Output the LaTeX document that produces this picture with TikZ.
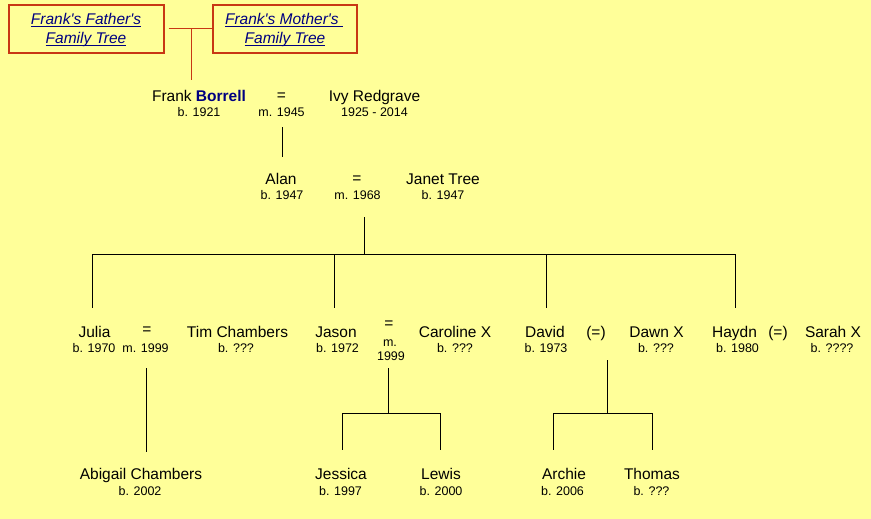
\documentclass[tikz,border=0pt]{standalone}
\usepackage{fontspec}
\setmainfont{Liberation Sans}
\definecolor{bg}{RGB}{255,255,153}
\definecolor{navy}{RGB}{0,0,128}
\definecolor{boxred}{RGB}{200,55,20}
\newsavebox\ulbox
\newcommand\myul[1]{\sbox\ulbox{#1}\rlap{\rule[-2.4pt]{\wd\ulbox}{0.9pt}}\usebox\ulbox}
\tikzset{
  nm/.style={anchor=base, inner sep=0pt, font=\fontsize{15.5}{18}\selectfont},
  dt/.style={anchor=base, inner sep=0pt, font=\fontsize{12.5}{14}\selectfont},
  lnk/.style={anchor=base, inner sep=0pt, text=navy, font=\fontsize{15.5}{18}\selectfont\itshape},
  ln/.style={draw=black, line width=1pt},
  rl/.style={draw=boxred, line width=1pt},
  treebox/.style={draw=boxred, line width=1.2pt, inner sep=0pt, minimum height=48pt}
}
\begin{document}
\begin{tikzpicture}[x=1pt,y=-1pt]
\path[fill=bg] (0,0) rectangle (871,519);
\useasboundingbox (0,0) rectangle (871,519);

% top boxes
\node[treebox, minimum width=155pt] (fbox) at (86.5,29) {};
\node[treebox, minimum width=144pt] (mbox) at (285,29) {};
\node[lnk] (f1) at (86,25) {\myul{Frank\textquotesingle s Father\textquotesingle s}};
\node[lnk] (f2) at (86,44) {\myul{Family Tree}};
\node[lnk] (m1) at (284,25) {\myul{Frank\textquotesingle s Mother\textquotesingle s\ }};
\node[lnk] (m2) at (285,44) {\myul{Family Tree}};
\coordinate (tj) at (191,29);
\coordinate (fb) at (191,80);
\draw[rl] ([xshift=4pt]fbox.east) -- (mbox.west);
\draw[rl] (tj) -- (fb);

% generation 1
\node[nm] (frank) at (199,102) {Frank \textcolor{navy}{\bfseries Borrell}};
\node[dt] (frankd) at (199,117) {b. 1921};
\node[nm] (eq1) at (281.5,101) {=};
\node[dt] (m1945) at (281.5,117) {m. 1945};
\node[nm] (ivy) at (374.5,102) {Ivy Redgrave};
\node[dt] (ivyd) at (374.5,117) {1925 - 2014};
\coordinate (g1a) at (282,127);
\coordinate (g1b) at (282,157);
\draw[ln] (g1a) -- (g1b);

% generation 2
\node[nm] (alan) at (281,184) {Alan};
\node[dt] (aland) at (282,199) {b. 1947};
\node[nm] (eq2) at (357,183) {=};
\node[dt] (m1968) at (357.5,199) {m. 1968};
\node[nm] (janet) at (443,184) {Janet Tree};
\node[dt] (janetd) at (443,199) {b. 1947};
\coordinate (g2a) at (364,217);
\coordinate (g2b) at (364,254);
\coordinate (hl) at (92,254);
\coordinate (hr) at (735,254);
\coordinate (jb) at (334,254);
\coordinate (db) at (546,254);
\coordinate (julb) at (92,308);
\coordinate (jasb) at (334,308);
\coordinate (davb) at (546,308);
\coordinate (hayb) at (735,308);
\draw[ln] (g2a) -- (g2b);
\draw[ln] (hl) -- (hr);
\draw[ln] (hl) -- (julb);
\draw[ln] (jb) -- (jasb);
\draw[ln] (db) -- (davb);
\draw[ln] (hr) -- (hayb);

% generation 3
\node[nm] (julia) at (94.5,337) {Julia};
\node[dt] (juliad) at (94,352) {b. 1970};
\node[nm] (eq3) at (147,334.5) {=};
\node[dt] (m1999a) at (145.5,352) {m. 1999};
\node[nm] (tim) at (237.5,337) {Tim Chambers};
\node[dt] (timd) at (236,352) {b. ???};
\node[nm] (jason) at (336,337) {Jason};
\node[dt] (jasond) at (337.5,352) {b. 1972};
\node[nm] (eq4) at (389,328) {=};
\node[dt] (m1999m) at (390,346.5) {m.};
\node[dt] (m1999y) at (391,360) {1999};
\node[nm] (caroline) at (455,337) {Caroline X};
\node[dt] (carolined) at (455,352) {b. ???};
\node[nm] (david) at (545,337) {David};
\node[dt] (davidd) at (546,352) {b. 1973};
\node[nm] (eq5) at (596,337) {(=)};
\node[nm] (dawn) at (656.5,337) {Dawn X};
\node[dt] (dawnd) at (656,352) {b. ???};
\node[nm] (haydn) at (734.5,337) {Haydn};
\node[dt] (haydnd) at (737.5,352) {b. 1980};
\node[nm] (eq6) at (778,337) {(=)};
\node[nm] (sarah) at (833,337) {Sarah X};
\node[dt] (sarahd) at (832,352) {b. ????};

% julia's child
\coordinate (ja) at (146,368);
\coordinate (jz) at (146,452);
\draw[ln] (ja) -- (jz);
% jason's children
\coordinate (sa) at (388,368);
\coordinate (sb) at (388,413);
\coordinate (sl) at (342,413);
\coordinate (sr) at (440,413);
\coordinate (sld) at (342,450);
\coordinate (srd) at (440,450);
\draw[ln] (sa) -- (sb);
\draw[ln] (sl) -- (sr);
\draw[ln] (sl) -- (sld);
\draw[ln] (sr) -- (srd);
% david's children
\coordinate (da) at (607,360);
\coordinate (dbb) at (607,413);
\coordinate (dl) at (553,413);
\coordinate (dr) at (652,413);
\coordinate (dld) at (553,450);
\coordinate (drd) at (652,450);
\draw[ln] (da) -- (dbb);
\draw[ln] (dl) -- (dr);
\draw[ln] (dl) -- (dld);
\draw[ln] (dr) -- (drd);

% generation 4
\node[nm] (abigail) at (141,479.5) {Abigail Chambers};
\node[dt] (abigaild) at (140,495) {b. 2002};
\node[nm] (jessica) at (341,479.5) {Jessica};
\node[dt] (jessicad) at (340.5,495) {b. 1997};
\node[nm] (lewis) at (441,479.5) {Lewis};
\node[dt] (lewisd) at (441,495) {b. 2000};
\node[nm] (archie) at (564,479.5) {Archie};
\node[dt] (archied) at (562.5,495) {b. 2006};
\node[nm] (thomas) at (652,479.5) {Thomas};
\node[dt] (thomasd) at (651.5,495) {b. ???};
\end{tikzpicture}
\end{document}
